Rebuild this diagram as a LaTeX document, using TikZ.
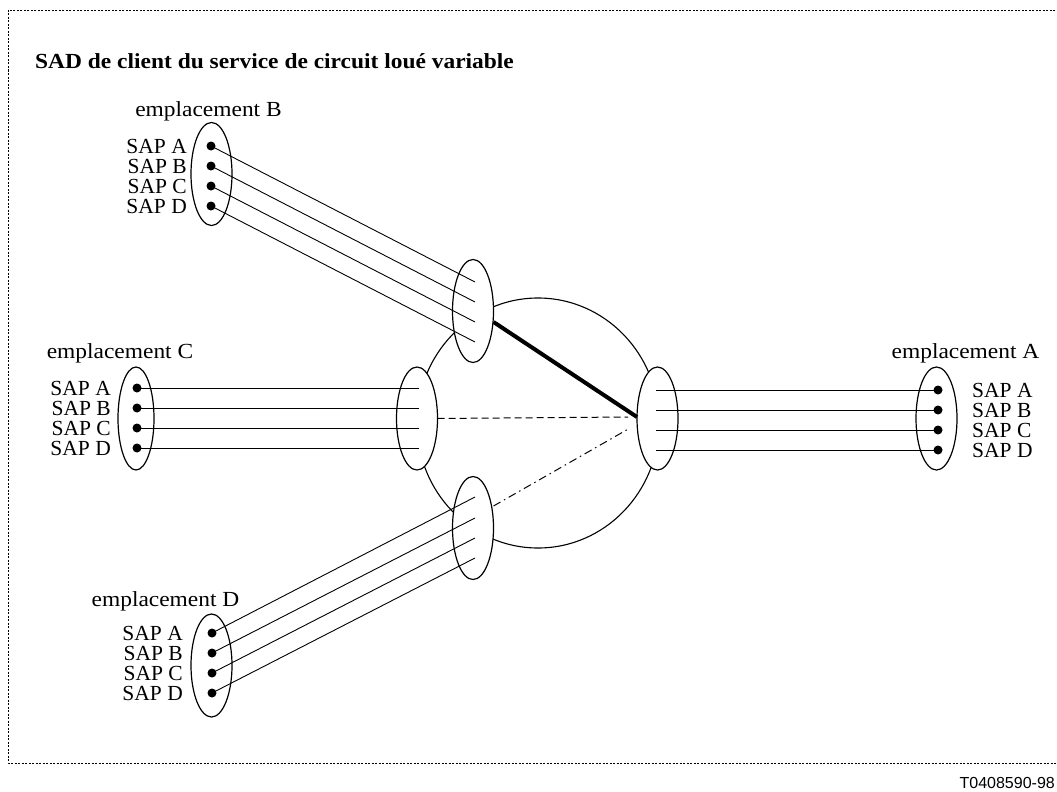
\documentclass[tikz,border=0pt]{standalone}
\usepackage{fontspec}
\setmainfont{Liberation Serif}
\newfontfamily\sansf{Liberation Sans}
\newfontfamily\widef[FakeStretch=1.09]{Liberation Serif}
\usetikzlibrary{shapes.geometric}
\begin{document}
\begin{tikzpicture}[x=1pt,y=-1pt,
  oval/.style={draw, line width=1.2pt, fill=white, ellipse, minimum width=41pt, minimum height=103pt, inner sep=0pt, outer sep=0pt},
  sapdot/.style={circle, fill=black, inner sep=0pt, minimum size=9pt},
  wire/.style={line width=0.9pt},
  saplbl/.style={inner sep=0pt, font=\fontsize{21.5}{21.5}\selectfont},
  sitelbl/.style={inner sep=0pt, anchor=base, font=\widef\fontsize{21.5}{21.5}\selectfont},
  frame/.style={line width=0.9pt, dash pattern=on 2pt off 1.5pt}]
\useasboundingbox (0,0) rectangle (1057,792);
\draw[frame] (8,10) rectangle (1070,763);
\node[inner sep=0pt, anchor=base west, font=\widef\fontsize{21.5}{21.5}\selectfont\bfseries] (title) at (35,68) {SAD de client du service de circuit loué variable};
\node[inner sep=0pt, anchor=base east, font=\sansf\fontsize{16}{16}\selectfont] (ref) at (1055,788) {T0408590-98};

% ring
\node[draw, line width=1.1pt, ellipse, minimum width=242pt, minimum height=250pt, inner sep=0pt] (ring) at (538,423) {};

% ring ellipses
\node[oval] (rB) at (473,311) {};
\node[oval] (rC) at (417,418.5) {};
\node[oval] (rD) at (473,528) {};
\node[oval] (rA) at (657.5,418.5) {};

% site ellipses
\node[oval] (sB) at (211.5,174) {};
\node[oval, minimum width=36pt] (sC) at (136,418.5) {};
\node[oval] (sD) at (211.5,665.5) {};
\node[oval] (sA) at (936.5,418.5) {};

% inter-ring connections
\coordinate (thickA) at (637,417);
\coordinate (dashA) at (628,417);
\coordinate (ddA) at (630,428);
\draw[line width=4pt] (rB.east |- 0,322) -- (thickA);
\draw[line width=1pt, dash pattern=on 7pt off 4pt] (rC.east) -- (dashA);
\draw[line width=1pt, dash pattern=on 8pt off 4pt on 1.5pt off 4pt] (rD.east |- 0,506) -- (ddA);

% site B
\foreach \i/\n/\yd/\ye in {1/A/146/282,2/B/166/302,3/C/186/322,4/D/206/342}{
  \node[sapdot] (dB\i) at (211,\yd) {};
  \coordinate (eB\i) at (475,\ye);
  \draw[wire] (dB\i.center) -- (eB\i);
  \node[saplbl, anchor=east] (lB\i) at (187,\yd) {SAP \n};
}
% site C
\foreach \i/\n/\y in {1/A/388,2/B/408,3/C/428,4/D/448}{
  \node[sapdot] (dC\i) at (137,\y) {};
  \coordinate (eC\i) at (419,\y);
  \draw[wire] (dC\i.center) -- (eC\i);
  \node[saplbl, anchor=east] (lC\i) at (111,\y) {SAP \n};
}
% site D
\foreach \i/\n/\yd/\ye in {1/A/633/497,2/B/653/518,3/C/673/538,4/D/693/558}{
  \node[sapdot] (dD\i) at (212,\yd) {};
  \coordinate (eD\i) at (475,\ye);
  \draw[wire] (dD\i.center) -- (eD\i);
  \node[saplbl, anchor=east] (lD\i) at (183,\yd) {SAP \n};
}
% site A
\foreach \i/\n/\y in {1/A/390,2/B/410,3/C/430,4/D/450}{
  \node[sapdot] (dA\i) at (938,\y) {};
  \coordinate (eA\i) at (656,\y);
  \draw[wire] (eA\i) -- (dA\i.center);
  \node[saplbl, anchor=west] (lA\i) at (972,\y) {SAP \n};
}

\node[sitelbl] (nB) at (208.5,116) {emplacement B};
\node[sitelbl] (nC) at (120,358) {emplacement C};
\node[sitelbl] (nA) at (965.5,358) {emplacement A};
\node[sitelbl] (nD) at (165.5,606) {emplacement D};
\end{tikzpicture}
\end{document}
